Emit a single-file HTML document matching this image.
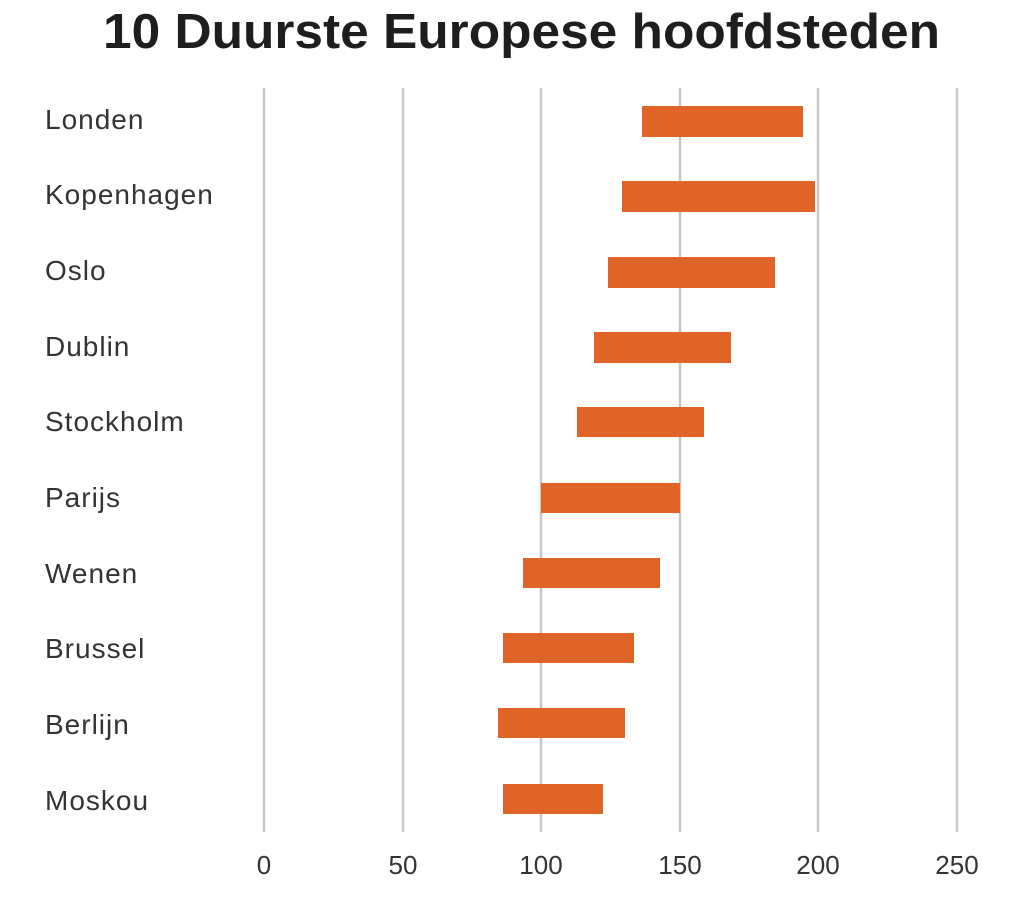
<!DOCTYPE html>
<html><head><style>
body{margin:0;background:#fff;width:1024px;height:906px;overflow:hidden;font-family:"Liberation Sans",sans-serif;}
svg text{font-family:"Liberation Sans",sans-serif;}
</style></head><body>
<svg width="1024" height="906" xmlns="http://www.w3.org/2000/svg">
<text x="103" y="48" font-size="49" font-weight="bold" fill="#1e1e1e" textLength="837" lengthAdjust="spacingAndGlyphs">10 Duurste Europese hoofdsteden</text>
<g stroke="#c8c8c8" stroke-width="2.5">
<line x1="264" y1="88" x2="264" y2="832"/>
<line x1="403" y1="88" x2="403" y2="832"/>
<line x1="541" y1="88" x2="541" y2="832"/>
<line x1="680" y1="88" x2="680" y2="832"/>
<line x1="818" y1="88" x2="818" y2="832"/>
<line x1="957" y1="88" x2="957" y2="832"/>
</g>
<g fill="#e06428">
<rect x="642" y="106" width="161" height="31"/>
<rect x="622" y="181" width="193" height="31"/>
<rect x="608" y="257" width="167" height="31"/>
<rect x="594" y="332" width="137" height="31"/>
<rect x="577" y="407" width="127" height="30"/>
<rect x="541" y="483" width="139" height="30"/>
<rect x="523" y="558" width="137" height="30"/>
<rect x="503" y="633" width="131" height="30"/>
<rect x="498" y="708" width="127" height="30"/>
<rect x="503" y="784" width="100" height="30"/>
</g>
<g font-size="28" fill="#333" letter-spacing="1">
<text x="45" y="129">Londen</text>
<text x="45" y="204">Kopenhagen</text>
<text x="45" y="280">Oslo</text>
<text x="45" y="356">Dublin</text>
<text x="45" y="431">Stockholm</text>
<text x="45" y="507">Parijs</text>
<text x="45" y="583">Wenen</text>
<text x="45" y="658">Brussel</text>
<text x="45" y="734">Berlijn</text>
<text x="45" y="810">Moskou</text>
</g>
<g font-size="26" fill="#333" text-anchor="middle">
<text x="264" y="874">0</text>
<text x="403" y="874">50</text>
<text x="541" y="874">100</text>
<text x="680" y="874">150</text>
<text x="818" y="874">200</text>
<text x="957" y="874">250</text>
</g>
</svg>
</body></html>
